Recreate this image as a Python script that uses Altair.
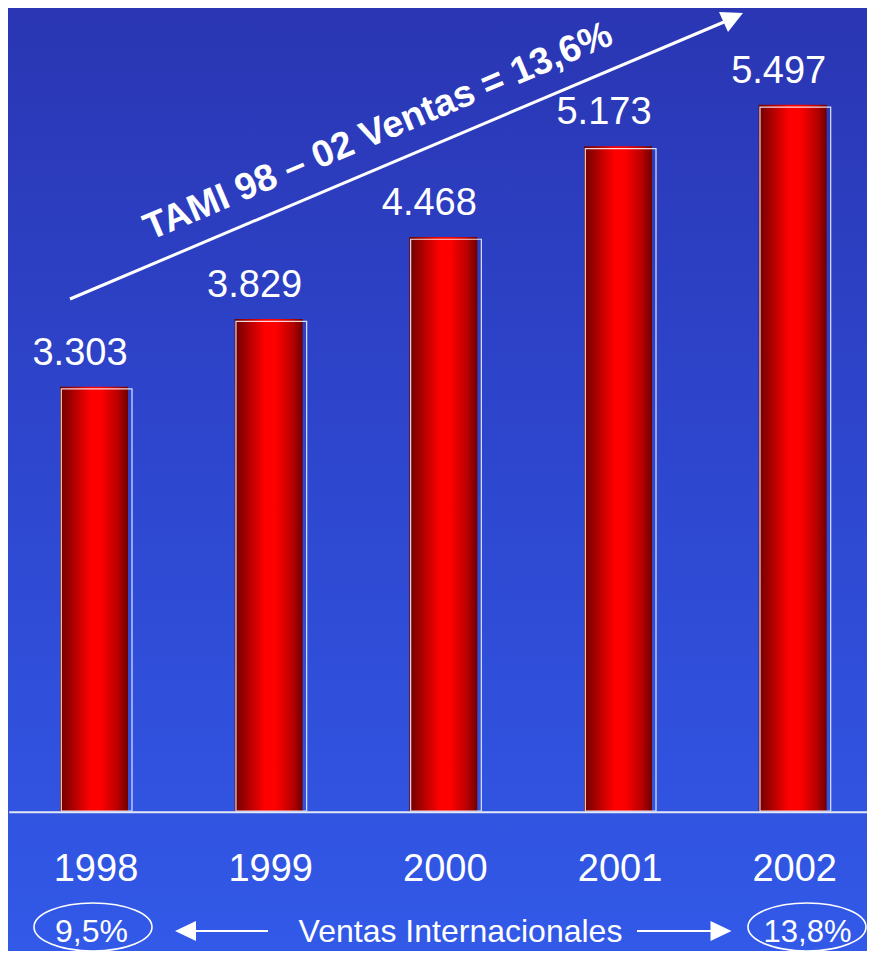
import altair as alt
import pandas as pd

# ---- data ----
anios = [1998, 1999, 2000, 2001, 2002]
ventas = [3303, 3829, 4468, 5173, 5497]
titulo_tami = "TAMI 98 – 02 Ventas = 13,6%"
texto_ventas_int = "Ventas Internacionales"
pct_textos = ["9,5%", "13,8%"]

# ---- layout ----
W = 859          # plot width (px)
PH = 803         # plot height: value 0 sits at the bottom
TOTAL_H = 943    # whole svg height (plot + bottom padding)
FONT = "Liberation Sans"

df = pd.DataFrame({"anio": anios, "ventas": ventas})
one = pd.DataFrame({"k": [0]})

xs = alt.Scale(domain=[1997.50764, 2002.42549], nice=False, zero=False, padding=0)
ys = alt.Scale(domain=[0, 6250], nice=False, zero=False, padding=0)
X = alt.X("anio:Q", scale=xs, axis=None)
Y = alt.Y("ventas:Q", scale=ys, axis=None)

bg_grad = alt.Gradient(
    gradient="linear",
    stops=[alt.GradientStop(color="#2a36b3", offset=0),
           alt.GradientStop(color="#2e47cf", offset=0.5),
           alt.GradientStop(color="#3259e8", offset=1)],
    x1=0, x2=0, y1=0, y2=1,
)
bar_grad = alt.Gradient(
    gradient="linear",
    stops=[alt.GradientStop(color="#6c0000", offset=0),
           alt.GradientStop(color="#b00000", offset=0.2),
           alt.GradientStop(color="#ff0000", offset=0.45),
           alt.GradientStop(color="#ff0000", offset=0.6),
           alt.GradientStop(color="#b80000", offset=0.85),
           alt.GradientStop(color="#700000", offset=1)],
    x1=0, x2=1, y1=0, y2=0,
)

bg = alt.Chart(one).mark_rect(color=bg_grad).encode(
    x=alt.value(0), x2=alt.value(W), y=alt.value(0), y2=alt.value(TOTAL_H)
)

bars = alt.Chart(df).mark_bar(size=68, color=bar_grad).encode(
    x=X, y=Y, y2=alt.datum(0)
)

outline = alt.Chart(df).mark_bar(
    size=70.7, filled=False, stroke="white", strokeOpacity=0.85,
    strokeWidth=1.2, xOffset=2.65, yOffset=2.3
).encode(x=X, y=Y, y2=alt.datum(0))

labels = alt.Chart(df).transform_calculate(
    lbl="replace(format(datum.ventas, ','), ',', '.')"
).mark_text(
    font=FONT, fontSize=38, color="white", dx=-14, dy=-22,
    baseline="alphabetic", align="center"
).encode(x=X, y=Y, text="lbl:N")

years = alt.Chart(df).mark_text(
    font=FONT, fontSize=38, color="white", baseline="alphabetic",
    align="center", dx=2
).encode(x=X, y=alt.value(873), text=alt.Text("anio:Q", format="d"))

axis_line = alt.Chart(one).mark_rule(color="#e4e8f6", strokeWidth=2).encode(
    x=alt.value(1.3), x2=alt.value(W), y=alt.value(804.3)
)

# diagonal growth arrow
diag = alt.Chart(one).mark_rule(color="white", strokeWidth=3).encode(
    x=alt.value(62), y=alt.value(291), x2=alt.value(716), y2=alt.value(14)
)
head_path = "M 1 -0.4615 L -0.846 -0.538 L -0.154 1 Z"
diag_head = alt.Chart(one).mark_point(
    shape=head_path, size=676, filled=True, color="white", opacity=1, strokeWidth=0
).encode(x=alt.value(722), y=alt.value(11))

diag_text = alt.Chart(one).mark_text(
    text=titulo_tami, font=FONT, fontSize=37.5, fontWeight="bold", color="white",
    angle=337, align="center", baseline="alphabetic"
).encode(x=alt.value(374.5), y=alt.value(134))

# bottom row
ell_path = ("M -1 0 C -1 -0.225 -0.552 -0.407 0 -0.407 C 0.552 -0.407 1 -0.225 1 0 "
            "C 1 0.225 0.552 0.407 0 0.407 C -0.552 0.407 -1 0.225 -1 0 Z")
ell_left = alt.Chart(one).mark_point(
    shape=ell_path, size=118 * 118, filled=False, color="white", opacity=1, strokeWidth=1.6
).encode(x=alt.value(85), y=alt.value(919))
ell_right = alt.Chart(one).mark_point(
    shape=ell_path, size=118 * 118, filled=False, color="white", opacity=1, strokeWidth=1.6
).encode(x=alt.value(799), y=alt.value(919))

pct_left = alt.Chart(one).mark_text(
    text=pct_textos[0], font=FONT, fontSize=32, color="white",
    align="center", baseline="alphabetic"
).encode(x=alt.value(83.5), y=alt.value(934))
pct_right = alt.Chart(one).mark_text(
    text=pct_textos[1], font=FONT, fontSize=31, color="white",
    align="center", baseline="alphabetic"
).encode(x=alt.value(799.5), y=alt.value(934))

vi_text = alt.Chart(one).mark_text(
    text=texto_ventas_int, font=FONT, fontSize=32, color="white",
    align="center", baseline="alphabetic"
).encode(x=alt.value(452.5), y=alt.value(934))

arrow_l = alt.Chart(one).mark_rule(color="white", strokeWidth=2).encode(
    x=alt.value(186), x2=alt.value(260), y=alt.value(923)
)
arrow_l_head = alt.Chart(one).mark_point(
    shape="M -1 0 L 1 -0.95 L 1 0.95 Z", size=441, filled=True, color="white",
    opacity=1, strokeWidth=0
).encode(x=alt.value(177.5), y=alt.value(923))
arrow_r = alt.Chart(one).mark_rule(color="white", strokeWidth=2).encode(
    x=alt.value(629), x2=alt.value(705), y=alt.value(923)
)
arrow_r_head = alt.Chart(one).mark_point(
    shape="M 1 0 L -1 -0.95 L -1 0.95 Z", size=441, filled=True, color="white",
    opacity=1, strokeWidth=0
).encode(x=alt.value(713), y=alt.value(923))

chart = alt.layer(
    bg, bars, outline, axis_line, labels, years,
    diag, diag_head, diag_text,
    ell_left, ell_right, pct_left, pct_right, vi_text,
    arrow_l, arrow_l_head, arrow_r, arrow_r_head,
).properties(
    width=W, height=PH,
    autosize=alt.AutoSizeParams(type="none"),
    padding={"left": 0, "top": 0, "right": 0, "bottom": TOTAL_H - PH},
    background="#2e46cc",
).configure_view(strokeWidth=0)

chart.save("out.html", embed_options={"renderer": "svg", "actions": False})
